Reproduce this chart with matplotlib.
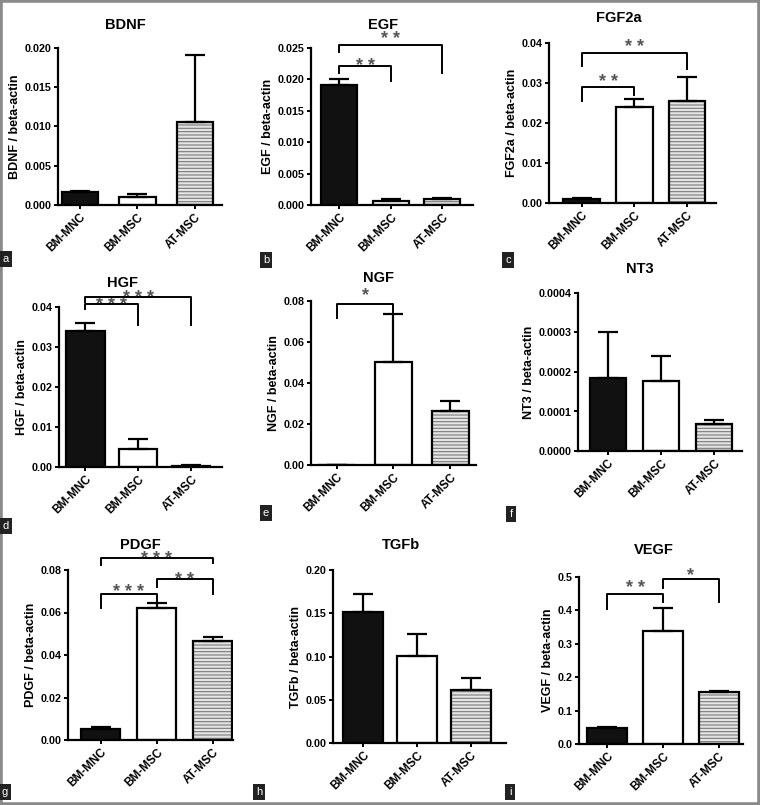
import matplotlib
matplotlib.use("Agg")
import matplotlib.pyplot as plt
from matplotlib.patches import Rectangle

plt.rcParams["font.family"] = ["Liberation Sans", "DejaVu Sans"]
plt.rcParams["font.weight"] = "bold"
plt.rcParams["hatch.linewidth"] = 0.8

W, H = 760, 805
groups = ["BM-MNC", "BM-MSC", "AT-MSC"]

# mean and upper SEM per factor
bdnf_mean = [0.0017, 0.00106, 0.0106]
bdnf_err = [0.0001, 0.0003, 0.0085]
egf_mean = [0.0191, 0.0007, 0.0009]
egf_err = [0.0010, 0.0002, 0.0002]
fgf_mean = [0.0011, 0.0241, 0.0256]
fgf_err = [0.0002, 0.0019, 0.0058]
hgf_mean = [0.0340, 0.0046, 0.0003]
hgf_err = [0.0021, 0.0025, 0.0002]
ngf_mean = [0.0002, 0.0504, 0.0265]
ngf_err = [0.0, 0.0231, 0.0047]
nt3_mean = [0.000186, 0.000178, 0.0000685]
nt3_err = [0.000114, 0.000063, 0.0000093]
pdgf_mean = [0.0050, 0.0620, 0.0466]
pdgf_err = [0.0010, 0.0026, 0.0017]
tgfb_mean = [0.152, 0.101, 0.0615]
tgfb_err = [0.0203, 0.0254, 0.0135]
vegf_mean = [0.0477, 0.339, 0.155]
vegf_err = [0.002, 0.0695, 0.005]

# significance brackets: (from, to, bar y, left leg y, right leg y, stars, star y)
egf_sig = [(0, 1, 0.0222, 0.0210, 0.0198, "* *", 0.0230),
           (0, 2, 0.0255, 0.0244, 0.0210, "* *", 0.0272)]
fgf_sig = [(0, 1, 0.0289, 0.0255, 0.0271, "* *", 0.0315),
           (0, 2, 0.0376, 0.0343, 0.0334, "* *", 0.0402)]
hgf_sig = [(0, 1, 0.0407, 0.0396, 0.0354, "* * *", 0.0417),
           (0, 2, 0.0425, 0.0412, 0.0354, "* * *", 0.0436)]
ngf_sig = [(0, 1, 0.0784, 0.0719, 0.0748, "*", 0.0852)]
pdgf_sig = [(0, 1, 0.0686, 0.0620, 0.0656, "* * *", 0.0722),
            (1, 2, 0.0756, 0.0722, 0.0686, "* *", 0.0775),
            (0, 2, 0.0858, 0.0824, 0.0831, "* * *", 0.0876)]
vegf_sig = [(0, 1, 0.448, 0.4056, 0.4255, "* *", 0.482),
            (1, 2, 0.495, 0.468, 0.4255, "*", 0.522)]

panels = [
    # name, mean, err, sig, ticks, fmt, box(px l, r, top, bottom), xlim, width, title xy, letter xy, letter
    ("BDNF", bdnf_mean, bdnf_err, [], [0, 0.005, 0.010, 0.015, 0.020], "%.3f",
     (58, 222, 48, 205), (-0.38, 2.47), 0.63, (125, 25), (6, 259), "a"),
    ("EGF", egf_mean, egf_err, egf_sig, [0, 0.005, 0.010, 0.015, 0.020, 0.025], "%.3f",
     (311, 473, 48, 205), (-0.55, 2.6), 0.7, (383, 25), (266, 260), "b"),
    ("FGF2a", fgf_mean, fgf_err, fgf_sig, [0, 0.01, 0.02, 0.03, 0.04], "%.2f",
     (549, 716, 43, 203), (-0.62, 2.55), 0.7, (619, 18), (508, 260), "c"),
    ("HGF", hgf_mean, hgf_err, hgf_sig, [0, 0.01, 0.02, 0.03, 0.04], "%.2f",
     (59, 222, 307, 467), (-0.5, 2.58), 0.72, (123, 283), (6, 526), "d"),
    ("NGF", ngf_mean, ngf_err, ngf_sig, [0, 0.02, 0.04, 0.06, 0.08], "%.2f",
     (311, 476, 301, 465), (-0.45, 2.45), 0.66, (378, 278), (266, 513), "e"),
    ("NT3", nt3_mean, nt3_err, [], [0, 0.0001, 0.0002, 0.0003, 0.0004], "%.4f",
     (578, 742, 293, 451), (-0.56, 2.52), 0.68, (640, 269), (511, 514), "f"),
    ("PDGF", pdgf_mean, pdgf_err, pdgf_sig, [0, 0.02, 0.04, 0.06, 0.08], "%.2f",
     (68, 233, 570, 740), (-0.58, 2.36), 0.7, (140, 545), (5, 792), "g"),
    ("TGFb", tgfb_mean, tgfb_err, [], [0, 0.05, 0.10, 0.15, 0.20], "%.2f",
     (333, 506, 570, 743), (-0.56, 2.65), 0.75, (401, 545), (259, 792), "h"),
    ("VEGF", vegf_mean, vegf_err, vegf_sig, [0, 0.1, 0.2, 0.3, 0.4, 0.5], "%.1f",
     (579, 743, 577, 744), (-0.51, 2.44), 0.72, (654, 550), (510, 792), "i"),
]

fig = plt.figure(figsize=(W / 100, H / 100), dpi=100)
fig.patch.set_facecolor("white")

x = [0, 1, 2]
for (name, mean, err, sig, ticks, fmt, box, xlim, width,
     tpos, lpos, letter) in panels:
    l, r, t, b = box
    ax = fig.add_axes([l / W, 1 - b / H, (r - l) / W, (b - t) / H])

    # hatched fill for AT-MSC, then black outlines on top
    ax.bar(x[2], mean[2], width=width, color="#e4e4e4", edgecolor="#7a7a7a",
           hatch="-----", linewidth=0, zorder=1)
    ax.bar(x, mean, width=width, color=["#111111", "white", "none"],
           edgecolor="black", linewidth=1.6, zorder=2)
    ax.errorbar(x, mean, yerr=[[0, 0, 0], err], fmt="none", ecolor="black",
                elinewidth=1.6, capsize=7.5, capthick=1.6, zorder=3)

    for i, j, yb, yl, yr, stars, ys in sig:
        ax.plot([i, i, j, j], [yl, yb, yb, yr], color="black", lw=1.4,
                clip_on=False, zorder=4)
        # the asterisk glyph sits high in its box, so pull it down a little
        ax.annotate(stars, ((i + j) / 2, ys), xytext=(0, -4),
                    textcoords="offset points", ha="center", va="center",
                    fontsize=13, color="#555555", annotation_clip=False)

    ax.set_xlim(*xlim)
    ax.set_ylim(0, ticks[-1])
    ax.set_yticks(ticks)
    ax.set_yticklabels([fmt % v for v in ticks], fontsize=7.7, fontweight="bold")
    ax.set_xticks(x)
    ax.set_xticklabels(groups, rotation=45, ha="right", rotation_mode="anchor",
                       fontsize=8.5, fontweight="bold")
    ax.set_ylabel(name + " / beta-actin", fontsize=9, fontweight="bold", labelpad=3)
    for s in ["top", "right"]:
        ax.spines[s].set_visible(False)
    for s in ["left", "bottom"]:
        ax.spines[s].set_linewidth(1.6)
    ax.tick_params(axis="both", direction="out", length=3, width=1.4, pad=1.5)

    fig.text(tpos[0] / W, 1 - tpos[1] / H, name, ha="center", va="center",
             fontsize=10.5, fontweight="bold")
    fig.text(lpos[0] / W, 1 - lpos[1] / H, letter, ha="center", va="center",
             fontsize=8, color="white", fontweight="normal",
             bbox=dict(boxstyle="square,pad=0.3", facecolor="#222222",
                       edgecolor="none"))

fig.add_artist(Rectangle((0, 0), 1, 1, transform=fig.transFigure, fill=False,
                         edgecolor="#8a8a8a", linewidth=4))

fig.savefig("out.png", dpi=100)
